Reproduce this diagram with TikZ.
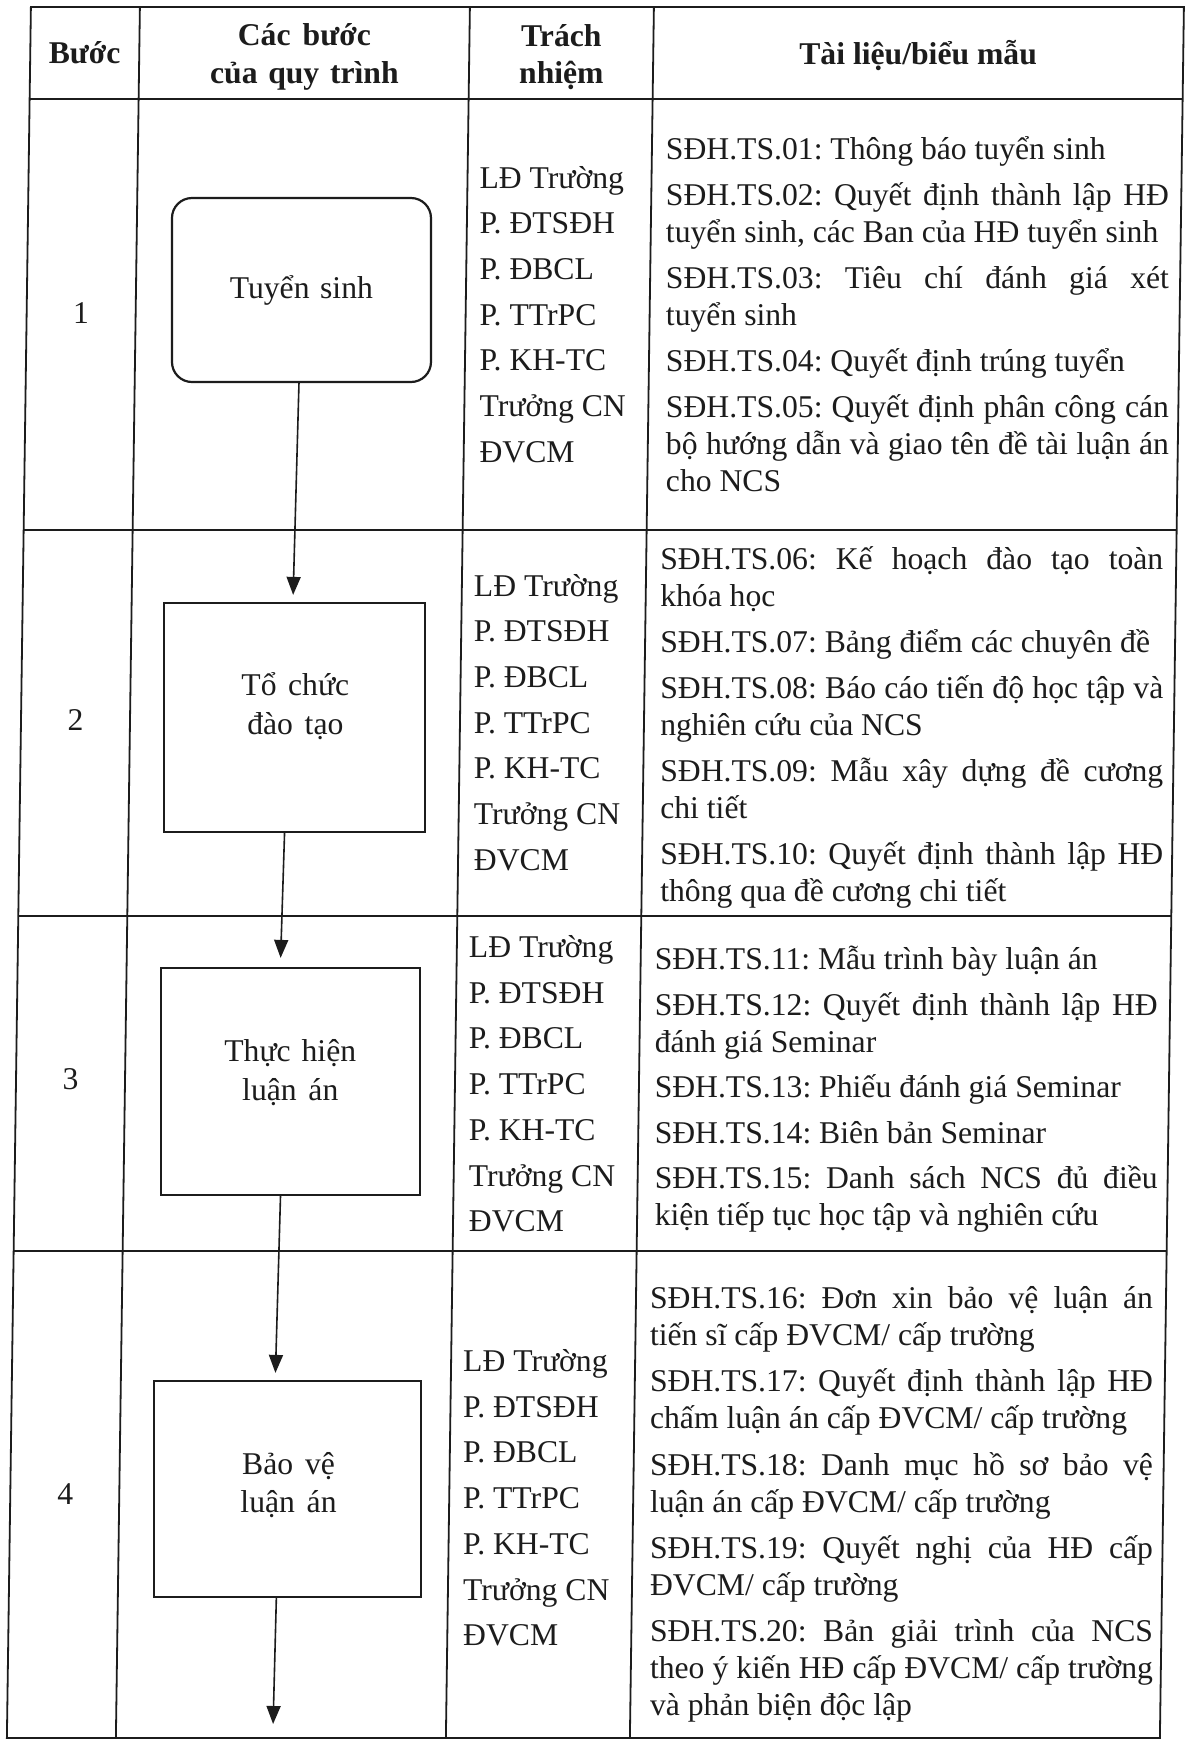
\documentclass[tikz,border=0pt]{standalone}
\usepackage{fontspec}
\setmainfont{Liberation Serif}
\usetikzlibrary{arrows.meta}
\definecolor{ink}{RGB}{28,28,28}
\newlength\colw \setlength\colw{503pt}
\newcommand\nsp{\spaceskip=0.25em plus 0.1em minus 0.05em\relax}
\newcommand\jline[1]{\leavevmode\hbox to\colw{\spaceskip=0.25em plus 1em minus 0.12em\relax #1}}
\newcommand\lline[1]{\leavevmode\hbox to\colw{\spaceskip=0.25em plus 0.1em minus 0.12em\relax #1\hfil}}
\frenchspacing
\begin{document}
\begin{tikzpicture}[x=1pt,y=-1pt]
\useasboundingbox (0,0) rectangle (1186,1741);
\fill[white] (0,0) rectangle (1186,1741);
\begin{scope}[xslant=0.01387,
  tbl/.style={draw=ink, line width=1.8pt},
  txt/.style={font=\fontsize{31.66}{37}\selectfont, text=ink, inner sep=0pt},
  hdr/.style={font=\fontsize{31.66}{37.5}\selectfont\bfseries, text=ink, inner sep=0pt, align=center},
  doc/.style={font=\fontsize{31.66}{37}\selectfont, text=ink, inner sep=0pt, text width=\colw, align=left, anchor=base west},
  resp/.style={font=\fontsize{31.66}{45.7}\selectfont, text=ink, inner sep=0pt, text width=170pt, align=left, anchor=base west},
  inbox/.style={font=\fontsize{31.66}{39.5}\selectfont, text=ink, inner sep=0pt, text width=250pt, align=center, anchor=base},
  stepbox/.style={draw=ink, line width=2.2pt, inner sep=0pt},
  arr/.style={draw=ink, line width=1.6pt, -{Triangle[width=14pt,length=18pt]}}]

% table grid
\draw[tbl] (31,7) rectangle (1184,1738);
\draw[tbl] (31,99) -- (1184,99);
\draw[tbl] (31,530) -- (1184,530);
\draw[tbl] (31,916) -- (1184,916);
\draw[tbl] (31,1251) -- (1184,1251);
\draw[tbl] (140,7) -- (140,1738);
\draw[tbl] (470,7) -- (470,1738);
\draw[tbl] (654,7) -- (654,1738);

% header
\node[hdr, anchor=base] (hstep) at (85.5,63.5) {Bước};
\node[hdr, text width=300pt, anchor=base] (hproc) at (305,45.5) {\nsp Các bước\\của quy trình};
\node[hdr, text width=170pt, anchor=base] (hresp) at (562,46) {Trách\\nhiệm};
\node[hdr, anchor=base] (hdocs) at (919,64) {\nsp Tài liệu/biểu mẫu};

% step numbers
\node[txt] (n1) at (85.5,313) {1};
\node[txt] (n2) at (85.5,720) {2};
\node[txt] (n3) at (85.5,1079) {3};
\node[txt] (n4) at (86,1494) {4};

% process boxes
\node[stepbox, rounded corners=20pt, minimum width=259pt, minimum height=184pt] (box1) at (305.5,290) {};
\node[stepbox, minimum width=261pt, minimum height=229pt] (box2) at (304.5,717.5) {};
\node[stepbox, minimum width=259pt, minimum height=227pt] (box3) at (305.5,1081.5) {};
\node[stepbox, minimum width=267pt, minimum height=216pt] (box4) at (308.5,1489) {};

\node[inbox] (t1) at (305.5,298) {\nsp Tuyển sinh};
\node[inbox] (t2) at (305,695) {\nsp Tổ chức\\đào tạo};
\node[inbox] (t3) at (305,1061) {\nsp Thực hiện\\luận án};
\node[inbox, font=\fontsize{31.66}{38}\selectfont] (t4) at (309,1474) {\nsp Bảo vệ\\luận án};

% connectors
\coordinate (endD) at (297,1724);
\draw[arr] ([xshift=-2.5pt]box1.south) -- ([xshift=-1.5pt,yshift=7pt]box2.north);
\draw[arr] ([xshift=-10pt]box2.south) -- ([xshift=-10pt,yshift=9pt]box3.north);
\draw[arr] ([xshift=-10pt]box3.south) -- ([xshift=-12.5pt,yshift=7pt]box4.north);
\draw[arr] ([xshift=-11.5pt]box4.south) -- (endD);

% responsibilities
\node[resp] (r1) at (482,188) {\nsp LĐ Trường\\P. ĐTSĐH\\P. ĐBCL\\P. TTrPC\\P. KH-TC\\Trưởng CN\\ĐVCM};
\node[resp] (r2) at (482,596) {\nsp LĐ Trường\\P. ĐTSĐH\\P. ĐBCL\\P. TTrPC\\P. KH-TC\\Trưởng CN\\ĐVCM};
\node[resp] (r3) at (482,957.5) {\nsp LĐ Trường\\P. ĐTSĐH\\P. ĐBCL\\P. TTrPC\\P. KH-TC\\Trưởng CN\\ĐVCM};
\node[resp] (r4) at (482,1371.5) {\nsp LĐ Trường\\P. ĐTSĐH\\P. ĐBCL\\P. TTrPC\\P. KH-TC\\Trưởng CN\\ĐVCM};

% documents
\node[doc] (d1) at (668,159.5) {\lline{SĐH.TS.01: Thông báo tuyển sinh}\\[9pt]
\jline{SĐH.TS.02: Quyết định thành lập HĐ}\\
\lline{tuyển sinh, các Ban của HĐ tuyển sinh}\\[9pt]
\jline{SĐH.TS.03: Tiêu chí đánh giá xét}\\
\lline{tuyển sinh}\\[9pt]
\lline{SĐH.TS.04: Quyết định trúng tuyển}\\[9pt]
\jline{SĐH.TS.05: Quyết định phân công cán}\\
\jline{bộ hướng dẫn và giao tên đề tài luận án}\\
\lline{cho NCS}};

\node[doc] (d2) at (668,569) {\jline{SĐH.TS.06: Kế hoạch đào tạo toàn}\\
\lline{khóa học}\\[9pt]
\lline{SĐH.TS.07: Bảng điểm các chuyên đề}\\[9pt]
\jline{SĐH.TS.08: Báo cáo tiến độ học tập và}\\
\lline{nghiên cứu của NCS}\\[9pt]
\jline{SĐH.TS.09: Mẫu xây dựng đề cương}\\
\lline{chi tiết}\\[9pt]
\jline{SĐH.TS.10: Quyết định thành lập HĐ}\\
\lline{thông qua đề cương chi tiết}};

\node[doc] (d3) at (668,969.5) {\lline{SĐH.TS.11: Mẫu trình bày luận án}\\[8.5pt]
\jline{SĐH.TS.12: Quyết định thành lập HĐ}\\
\lline{đánh giá Seminar}\\[8.5pt]
\lline{SĐH.TS.13: Phiếu đánh giá Seminar}\\[8.5pt]
\lline{SĐH.TS.14: Biên bản Seminar}\\[8.5pt]
\jline{SĐH.TS.15: Danh sách NCS đủ điều}\\
\lline{kiện tiếp tục học tập và nghiên cứu}};

\node[doc] (d4) at (668,1308.5) {\jline{SĐH.TS.16: Đơn xin bảo vệ luận án}\\
\lline{tiến sĩ cấp ĐVCM/ cấp trường}\\[9.3pt]
\jline{SĐH.TS.17: Quyết định thành lập HĐ}\\
\lline{chấm luận án cấp ĐVCM/ cấp trường}\\[9.3pt]
\jline{SĐH.TS.18: Danh mục hồ sơ bảo vệ}\\
\lline{luận án cấp ĐVCM/ cấp trường}\\[9.3pt]
\jline{SĐH.TS.19: Quyết nghị của HĐ cấp}\\
\lline{ĐVCM/ cấp trường}\\[9.3pt]
\jline{SĐH.TS.20: Bản giải trình của NCS}\\
\jline{theo ý kiến HĐ cấp ĐVCM/ cấp trường}\\
\lline{và phản biện độc lập}};
\end{scope}
\end{tikzpicture}
\end{document}
